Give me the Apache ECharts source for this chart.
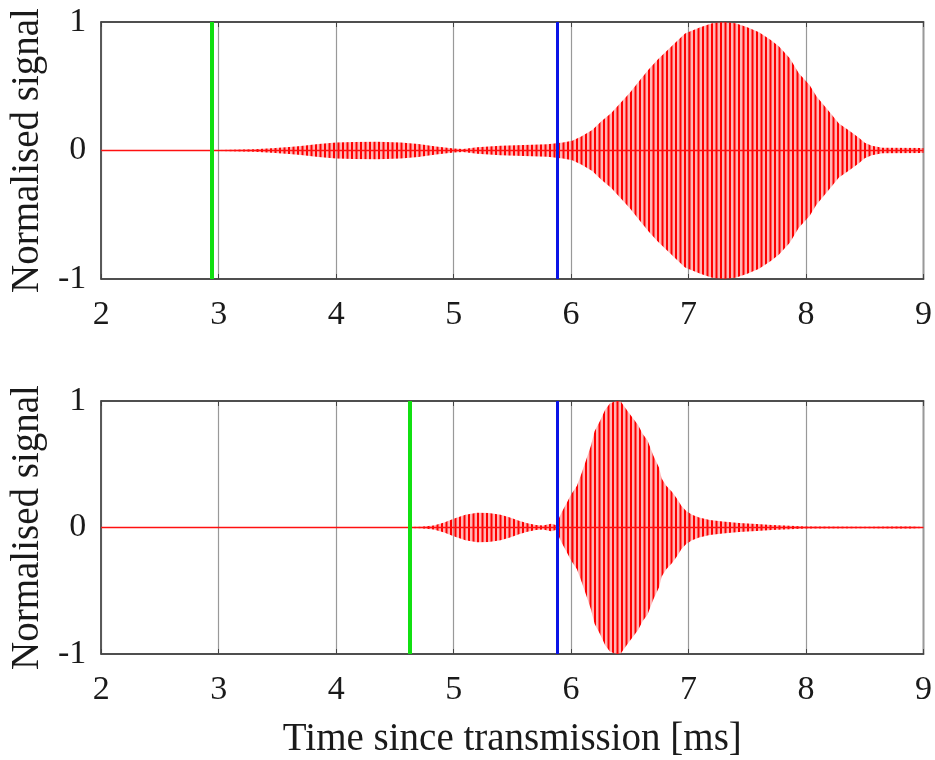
<!DOCTYPE html>
<html lang="en">

<head>
  <meta charset="UTF-8">
  <title>Normalised signal</title>
  <script src="https://cdn.jsdelivr.net/npm/echarts@6/dist/echarts.min.js"></script>
  <style>
    body { margin: 0; background: #fff; }
    #chart { width: 935px; height: 760px; }
  </style>
</head>

<body>
  <div id="chart"></div>
  <script>
    // envelope of the received signal (time in ms, amplitude)
    const topTime = [2.0, 3.0, 3.1, 3.3, 3.45, 3.6, 3.7, 3.85, 4.0, 4.15, 4.35, 4.55, 4.7, 4.85, 5.0, 5.08, 5.2, 5.4, 5.6, 5.8, 5.93,
      6.01, 6.09, 6.18, 6.26, 6.34, 6.42, 6.5, 6.58, 6.66, 6.74, 6.82, 6.9, 6.97, 7.1, 7.2, 7.3, 7.4, 7.5, 7.6, 7.7, 7.77,
      7.86, 7.94, 8.03, 8.09, 8.2, 8.28, 8.36, 8.45, 8.5, 8.56, 8.65, 9.0]
    const topEnv = [0.003, 0.003, 0.005, 0.01, 0.018, 0.027, 0.035, 0.05, 0.062, 0.067, 0.068, 0.062, 0.05, 0.032, 0.015, 0.012, 0.026, 0.036, 0.043, 0.048, 0.062,
      0.075, 0.11, 0.16, 0.23, 0.29, 0.37, 0.45, 0.54, 0.63, 0.71, 0.78, 0.85, 0.91, 0.96, 0.99, 1.0, 0.99, 0.96, 0.92, 0.86, 0.81,
      0.72, 0.6, 0.51, 0.42, 0.3, 0.21, 0.16, 0.1, 0.06, 0.036, 0.022, 0.02]

    const bottomTime = [2.0, 4.6, 4.72, 4.83, 4.92, 5.0, 5.1, 5.2, 5.3, 5.4, 5.48, 5.55, 5.62, 5.7, 5.76, 5.83, 5.87, 5.92, 5.96,
      6.0, 6.05, 6.09, 6.13, 6.17, 6.2, 6.25, 6.29, 6.33, 6.38, 6.42, 6.45, 6.49, 6.53, 6.57, 6.61, 6.65, 6.7, 6.75, 6.77,
      6.81, 6.86, 6.9, 6.94, 6.98, 7.03, 7.09, 7.18, 7.29, 7.43, 7.58, 7.71, 7.86, 8.0, 8.5, 8.8, 9.0]
    const bottomEnv = [0.003, 0.003, 0.006, 0.016, 0.04, 0.07, 0.1, 0.117, 0.115, 0.1, 0.08, 0.055, 0.035, 0.02, 0.015, 0.03, 0.02, 0.12, 0.19,
      0.26, 0.33, 0.43, 0.54, 0.65, 0.76, 0.85, 0.93, 0.98, 1.0, 1.0, 0.96, 0.91, 0.86, 0.81, 0.74, 0.69, 0.57, 0.47, 0.39,
      0.33, 0.28, 0.23, 0.17, 0.13, 0.1, 0.08, 0.06, 0.047, 0.036, 0.028, 0.02, 0.013, 0.008, 0.005, 0.008, 0.008]

    // gate markers (ms)
    const topGates = [2.94, 5.88]
    const bottomGates = [4.63, 5.88]
    const xTicks = [2, 9, 1]   // min, max, step
    const yTicks = [-1, 1, 1]

    const font = "'Liberation Serif', 'Times New Roman', serif"
    const textColor = '#1a1a1a'

    // vertical stripe pattern to mimic the dense carrier oscillation
    const stripe = document.createElement('canvas')
    stripe.width = 9
    stripe.height = 8
    const sctx = stripe.getContext('2d')
    sctx.fillStyle = 'rgba(255,90,90,0.45)'
    sctx.fillRect(0, 0, 9, 8)
    sctx.fillStyle = '#ff0000'
    sctx.fillRect(0, 0, 2, 8)
    sctx.fillRect(4.5, 0, 2, 8)

    let chart = echarts.init(document.getElementById('chart'))

    function bottomAxis(grid, withName) {
      return {
        type: 'value', gridIndex: grid, position: 'bottom',
        min: xTicks[0], max: xTicks[1], interval: xTicks[2],
        axisLine: { show: true, onZero: false, lineStyle: { color: '#444', width: 1.5 } },
        axisTick: { show: true, inside: true, length: 5, lineStyle: { color: '#444' } },
        axisLabel: { fontFamily: font, fontSize: 34, color: textColor, margin: 19 },
        splitLine: { show: true, lineStyle: { color: '#999', width: 1.2 } },
        name: withName ? 'Time since transmission [ms]' : '',
        nameLocation: 'middle', nameGap: 66,
        nameTextStyle: { fontFamily: font, fontSize: 39, color: textColor }
      }
    }

    function topAxis(grid) {
      return {
        type: 'value', gridIndex: grid, position: 'top',
        min: xTicks[0], max: xTicks[1], interval: xTicks[2],
        axisLine: { show: true, onZero: false, lineStyle: { color: '#444', width: 1.5 } },
        axisTick: { show: true, inside: true, length: 5, lineStyle: { color: '#444' } },
        axisLabel: { show: false },
        splitLine: { show: false }
      }
    }

    function yAxis(grid) {
      return {
        type: 'value', gridIndex: grid,
        min: yTicks[0], max: yTicks[1], interval: yTicks[2],
        axisLine: { show: true, lineStyle: { color: '#444', width: 1.5 } },
        axisTick: { show: false },
        axisLabel: { fontFamily: font, fontSize: 34, color: textColor, margin: 15 },
        splitLine: { show: false },
        name: 'Normalised signal', nameLocation: 'middle', nameGap: 49,
        nameTextStyle: { fontFamily: font, fontSize: 39, color: textColor }
      }
    }

    function signal(times, env, sign, xi, yi, gates) {
      let s = {
        type: 'line', xAxisIndex: xi, yAxisIndex: yi,
        data: times.map((t, i) => [t, sign * env[i]]),
        showSymbol: false, silent: true,
        lineStyle: { opacity: 0 },
        areaStyle: { origin: 0, opacity: 1, color: { image: stripe, repeat: 'repeat' } }
      }
      if (gates) {
        s.markLine = {
          silent: true, symbol: ['none', 'none'], label: { show: false }, z: 5,
          data: [
            { yAxis: 0, lineStyle: { color: '#ff1010', width: 1.3, type: 'solid' } },
            { xAxis: gates[0], lineStyle: { color: '#11e011', width: 4, type: 'solid' } },
            { xAxis: gates[1], lineStyle: { color: '#0a14e6', width: 3, type: 'solid' } }
          ]
        }
      }
      return s
    }

    let option = {
      animation: false,
      backgroundColor: '#fff',
      grid: [
        { left: 99, top: 22, width: 826, height: 257, show: true, borderColor: '#444', borderWidth: 1.5 },
        { left: 99, top: 401, width: 826, height: 257, show: true, borderColor: '#444', borderWidth: 1.5 }
      ],
      xAxis: [bottomAxis(0, false), topAxis(0), bottomAxis(1, true), topAxis(1)],
      yAxis: [yAxis(0), yAxis(1)],
      series: [
        signal(topTime, topEnv, 1, 0, 0, topGates),
        signal(topTime, topEnv, -1, 0, 0, null),
        signal(bottomTime, bottomEnv, 1, 2, 1, bottomGates),
        signal(bottomTime, bottomEnv, -1, 2, 1, null)
      ]
    }

    chart.setOption(option)
  </script>
</body>

</html>
